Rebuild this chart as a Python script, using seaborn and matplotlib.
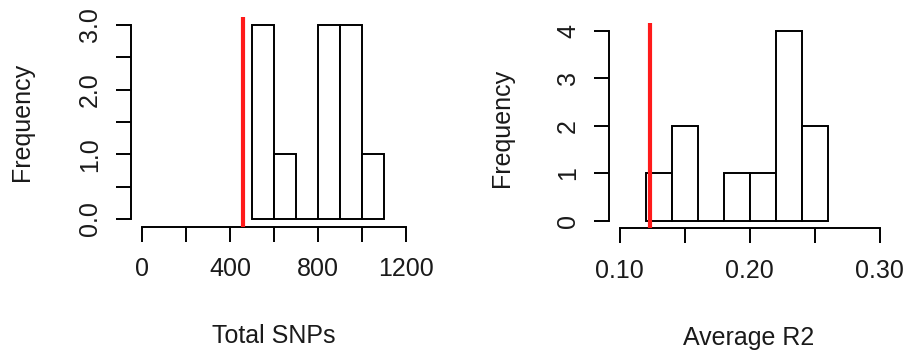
import numpy as np
import pandas as pd
import seaborn as sns
import matplotlib
matplotlib.use("Agg")
import matplotlib.pyplot as plt

# ---- data ----
snp_bin_edges = [500, 600, 700, 800, 900, 1000, 1100]
snp_counts = [3, 1, 0, 3, 3, 1]
snp_ref_line = 460

r2_bin_edges = [0.12, 0.14, 0.16, 0.18, 0.20, 0.22, 0.24, 0.26]
r2_counts = [1, 2, 0, 1, 1, 4, 2]
r2_ref_line = 0.123

snp_xticks = [0, 200, 400, 600, 800, 1000, 1200]
snp_xticklabels = ["0", "", "400", "", "800", "", "1200"]
snp_yticks = [0, 0.5, 1.0, 1.5, 2.0, 2.5, 3.0]
snp_yticklabels = ["0.0", "", "1.0", "", "2.0", "", "3.0"]

r2_xticks = [0.10, 0.15, 0.20, 0.25, 0.30]
r2_xticklabels = ["0.10", "", "0.20", "", "0.30"]
r2_yticks = [0, 1, 2, 3, 4]
r2_yticklabels = ["0", "1", "2", "3", "4"]

sns.set_style("white")
plt.rcParams["font.family"] = ["Liberation Sans", "DejaVu Sans"]

W, H = 909, 353
DPI = 100
fig = plt.figure(figsize=(W / DPI, H / DPI), dpi=DPI)

def px_axes(x0, x1, ytop, ybot):
    return fig.add_axes([x0 / W, 1 - ybot / H, (x1 - x0) / W, (ybot - ytop) / H])

TXT = "#1a1a1a"
FS = 18
LW = 1.4

def draw(ax, edges, counts, ref, xlim, ylim, xticks, xtl, yticks, ytl, xlabel):
    e = np.asarray(edges, dtype=float)
    centers = (e[:-1] + e[1:]) / 2
    df = pd.DataFrame({"x": centers, "w": counts})
    sns.histplot(data=df, x="x", weights="w", bins=list(edges), ax=ax,
                 color="white", edgecolor="black", linewidth=LW, alpha=1)
    ax.axvline(ref, color="#ff1a1a", linewidth=3.0, zorder=5)
    xr = xlim[1] - xlim[0]
    yr = ylim[1] - ylim[0]
    ax.set_xlim(xlim[0] - 0.04 * xr, xlim[1] + 0.04 * xr)
    ax.set_ylim(ylim[0] - 0.04 * yr, ylim[1] + 0.04 * yr)
    ax.set_xticks(xticks)
    ax.set_xticklabels(xtl)
    ax.set_yticks(yticks)
    ax.set_yticklabels(ytl, rotation=90, va="center")
    for s in ["top", "right"]:
        ax.spines[s].set_visible(False)
    ax.spines["left"].set_bounds(ylim[0], ylim[1])
    ax.spines["bottom"].set_bounds(xlim[0], xlim[1])
    for s in ["left", "bottom"]:
        ax.spines[s].set_linewidth(LW)
        ax.spines[s].set_color("black")
    ax.tick_params(axis="both", direction="out", length=11, width=LW,
                   color="black", labelsize=FS, labelcolor=TXT,
                   left=True, bottom=True)
    ax.tick_params(axis="x", pad=11)
    ax.tick_params(axis="y", pad=10)
    ax.set_xlabel(xlabel, fontsize=FS, color=TXT)
    ax.set_ylabel("Frequency", fontsize=FS, color=TXT)
    ax.set_facecolor("white")
    ax.grid(False)

ax1 = px_axes(131.4, 416.5, 17.2, 226.8)
draw(ax1, snp_bin_edges, snp_counts, snp_ref_line, (0, 1200), (0, 3),
     snp_xticks, snp_xticklabels, snp_yticks, snp_yticklabels, "Total SNPs")
ax2 = px_axes(609.3, 890.1, 23.1, 228.3)
draw(ax2, r2_bin_edges, r2_counts, r2_ref_line, (0.10, 0.30), (0, 4),
     r2_xticks, r2_xticklabels, r2_yticks, r2_yticklabels, "Average R2")

# label placement (pixel centres from reference)
def place_labels(ax, x0, x1, ytop, ybot, xlab_cx, xlab_cy, ylab_cx, ylab_cy):
    w = x1 - x0
    h = ybot - ytop
    ax.xaxis.set_label_coords((xlab_cx - x0) / w, (ybot - xlab_cy) / h)
    ax.xaxis.label.set_va("center")
    ax.yaxis.set_label_coords((ylab_cx - x0) / w, (ybot - ylab_cy) / h)
    ax.yaxis.label.set_va("center")

place_labels(ax1, 131.4, 416.5, 17.2, 226.8, 274, 336, 22, 122)
place_labels(ax2, 609.3, 890.1, 23.1, 228.3, 749, 338, 502, 128)

fig.savefig("out.png", dpi=DPI, facecolor="white")
